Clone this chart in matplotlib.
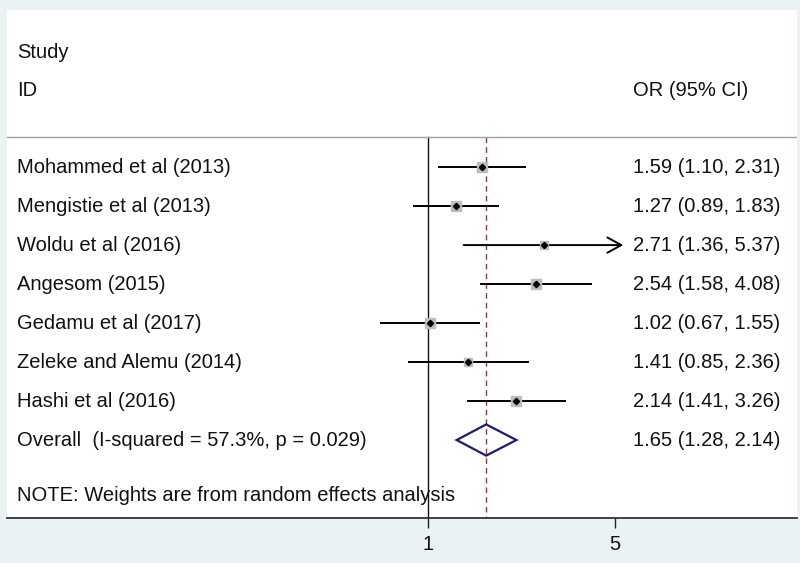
import matplotlib
matplotlib.use('Agg')
import matplotlib.pyplot as plt
import matplotlib.transforms as mtransforms
from matplotlib.patches import Polygon
from matplotlib.ticker import NullLocator
import numpy as np

# Study data (odds ratios with 95% CI)
studies = ["Mohammed et al (2013)", "Mengistie et al (2013)", "Woldu et al (2016)",
           "Angesom (2015)", "Gedamu et al (2017)", "Zeleke and Alemu (2014)",
           "Hashi et al (2016)"]
or_est = [1.59, 1.27, 2.71, 2.54, 1.02, 1.41, 2.14]
ci_low = [1.10, 0.89, 1.36, 1.58, 0.67, 0.85, 1.41]
ci_high = [2.31, 1.83, 5.37, 4.08, 1.55, 2.36, 3.26]
box_size = [7.5, 7.5, 6, 7, 7, 6, 7]  # weight boxes, points

overall_label = "Overall  (I-squared = 57.3%, p = 0.029)"
overall_est, overall_low, overall_high = 1.65, 1.28, 2.14
note = "NOTE: Weights are from random effects analysis"
xticks = [1, 5]

FONT = ['Liberation Sans', 'DejaVu Sans']
FS = 14.5
TXT = '#111111'
plt.rcParams['font.family'] = FONT

fig = plt.figure(figsize=(8, 5.63), dpi=100)
fig.patch.set_facecolor('#eaf2f3')

# white plot region: x 7..797 px, y 10..518 px
ax = fig.add_axes([7 / 800, (563 - 518) / 563, 790 / 800, 508 / 563])
ax.set_facecolor('white')
ax.set_xscale('log')
k = 187 / np.log(5)          # px per log unit (1 at 428px, 5 at 615px)
ax.set_xlim(np.exp(-(428 - 7) / k), np.exp((797 - 428) / k))
ax.set_ylim(9.0, -4.03)      # rows, top to bottom (row spacing 39px)

for s in ['top', 'left', 'right']:
    ax.spines[s].set_visible(False)
ax.spines['bottom'].set_color('#222222')
ax.spines['bottom'].set_linewidth(1.2)
ax.set_yticks([])
ax.set_xticks(xticks)
ax.set_xticklabels([str(t) for t in xticks])
ax.xaxis.set_minor_locator(NullLocator())
ax.tick_params(axis='x', length=7, width=1.0, color='#222222', labelsize=FS,
               labelcolor=TXT, pad=5)

trans = mtransforms.blended_transform_factory(ax.transAxes, ax.transData)
left_x = 10 / 790
right_x = (633 - 7) / 790

# headers
ax.text(left_x, -2.95, "Study", transform=trans, fontsize=FS, color=TXT, va='center')
ax.text(left_x, -1.97, "ID", transform=trans, fontsize=FS, color=TXT, va='center')
ax.text(right_x, -1.97, "OR (95% CI)", transform=trans, fontsize=FS, color=TXT, va='center')
ax.axhline(-0.77, color='#a0a0a0', lw=1.0)

# reference lines
ax.plot([1, 1], [-0.77, 9.0], color='#111111', lw=1.0, zorder=1)
ax.plot([overall_est, overall_est], [-0.77, 9.0], color='#a0303c', lw=1.0,
        ls=(0, (4, 3)), zorder=1)

rows = np.arange(len(studies))
for r, name, est, lo, hi, bs in zip(rows, studies, or_est, ci_low, ci_high, box_size):
    ax.text(left_x, r, name, transform=trans, fontsize=FS, color=TXT, va='center')
    ax.text(right_x, r, f"{est:.2f} ({lo:.2f}, {hi:.2f})", transform=trans,
            fontsize=FS, color=TXT, va='center')
    if hi > max(xticks):
        ax.annotate('', xy=(hi, r), xytext=(lo, r),
                    arrowprops=dict(arrowstyle='->,head_length=1.0,head_width=0.55',
                                    lw=1.4, color='black', shrinkA=0, shrinkB=0))
    else:
        ax.plot([lo, hi], [r, r], color='black', lw=1.4, zorder=2)
    ax.plot(est, r, marker='s', ms=bs, color='#bdbdbd', mec='#bdbdbd', zorder=3)
    ax.plot(est, r, marker='D', ms=3.2, color='black', zorder=4)

# overall
r_ov = len(studies)
ax.text(left_x, r_ov, overall_label, transform=trans, fontsize=FS, color=TXT, va='center')
ax.text(right_x, r_ov, f"{overall_est:.2f} ({overall_low:.2f}, {overall_high:.2f})",
        transform=trans, fontsize=FS, color=TXT, va='center')
ax.add_patch(Polygon([[overall_low, r_ov], [overall_est, r_ov - 0.4],
                      [overall_high, r_ov], [overall_est, r_ov + 0.4]],
                     closed=True, fill=False, edgecolor='#1c1c70', lw=1.6, zorder=3))

ax.text(left_x, 8.42, note, transform=trans, fontsize=FS, color=TXT, va='center')

fig.savefig('out.png', dpi=100, facecolor=fig.get_facecolor())
